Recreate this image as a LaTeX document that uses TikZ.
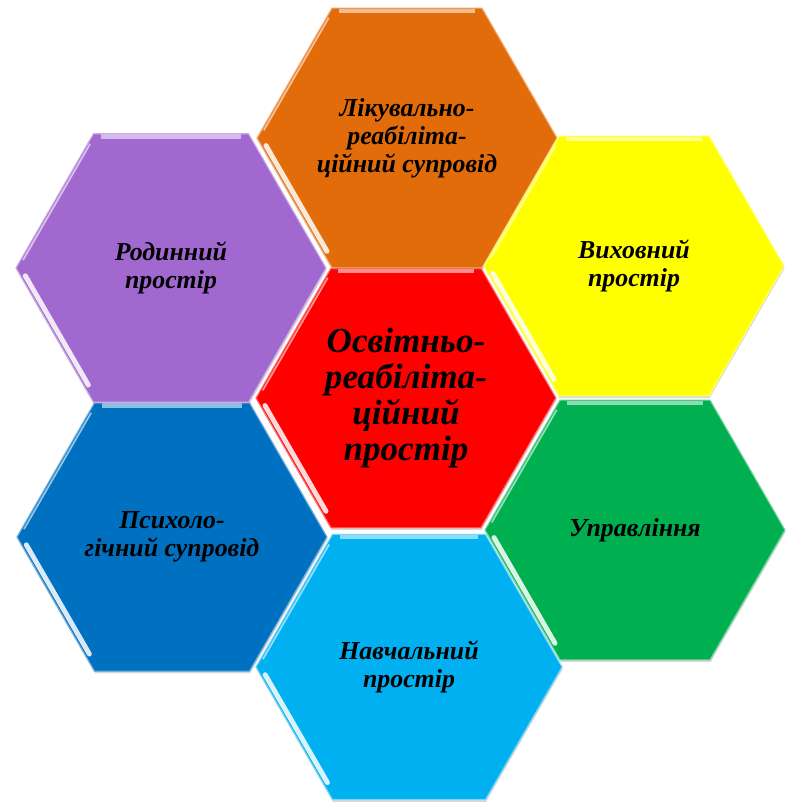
\documentclass[tikz,border=0pt]{standalone}
\usepackage{fontspec}
\setmainfont{Liberation Serif}
\usepackage{tikz}
\usetikzlibrary{shapes.geometric,shadows,calc}
\definecolor{osvit}{RGB}{255,0,0}
\definecolor{likuv}{RGB}{227,108,10}
\definecolor{vykhov}{RGB}{255,255,0}
\definecolor{upravl}{RGB}{0,176,80}
\definecolor{navch}{RGB}{0,176,240}
\definecolor{psykhol}{RGB}{0,112,192}
\definecolor{rodyn}{RGB}{161,104,208}

\begin{document}
\begin{tikzpicture}[
  hexa/.style={regular polygon, regular polygon sides=6,
    minimum size=7.5cm, inner sep=0pt, align=center, % tamanho da colmeia
    fill=#1, draw=#1!55!white, line width=0.8pt,
    drop shadow={opacity=0.3, shadow xshift=0.4pt, shadow yshift=-1.6pt},
    font=\bfseries\itshape\fontsize{18.4}{20}\selectfont},
  hexa big/.style={minimum size=7.75cm}, % colmeias mais largas
  centro/.style={font=\bfseries\itshape\fontsize{25}{25.5}\selectfont},
  ]
  \useasboundingbox (-10.15,-10.2) rectangle (9.5,9.95);

  \node[hexa=osvit, centro] (osvit) at (0,0)
    {Освітньо-\\реабіліта-\\ційний\\простір};
  \node[hexa=likuv] (likuv) at (0.025,6.5)
    {Лікувально-\\реабіліта-\\ційний супровід};
  \node[hexa=vykhov] (vykhov) at (5.7,3.3) {Виховний\\простір};
  \node[hexa=upravl] (upravl) at (5.725,-3.3) {Управління};
  \node[hexa=navch, minimum size=7.65cm] (navch) at (0.075,-6.725)
    {Навчальний\\простір};
  \node[hexa=psykhol, hexa big] (psykhol) at (-5.85,-3.475)
    {Психоло-\\гічний супровід};
  \node[hexa=rodyn, hexa big] (rodyn) at (-5.875,3.25) {Родинний\\простір};

  % brilho nas bordas
  \foreach \n/\c in {osvit/osvit, likuv/likuv, vykhov/vykhov, upravl/upravl,
                     navch/navch, psykhol/psykhol, rodyn/rodyn}{
    \draw[\c!45!white, line width=3pt]
      ($($(\n.120)!0.04!(\n.60)$)!0.025!(\n.center)$) --
      ($($(\n.120)!0.96!(\n.60)$)!0.025!(\n.center)$);
    \draw[\c!40!white, line width=1.2pt]
      ($($(\n.180)!0.06!(\n.120)$)!0.02!(\n.center)$) --
      ($($(\n.180)!0.94!(\n.120)$)!0.02!(\n.center)$);
    \draw[white, line width=3.5pt, opacity=0.85, line cap=round]
      ($($(\n.180)!0.06!(\n.240)$)!0.035!(\n.center)$) --
      ($($(\n.180)!0.9!(\n.240)$)!0.035!(\n.center)$);
  }
\end{tikzpicture}
\end{document}
